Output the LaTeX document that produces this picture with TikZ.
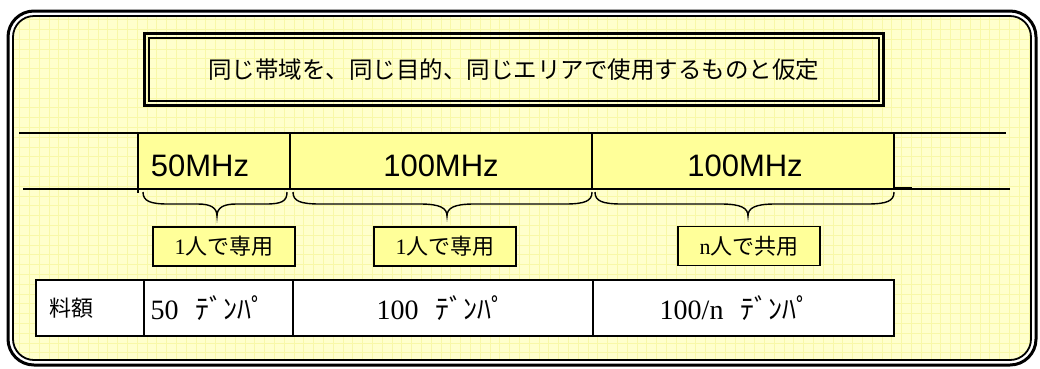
\documentclass[tikz,border=0pt]{standalone}
\usepackage{fontspec}
\setmainfont{Liberation Serif}
\newfontfamily\jp{Noto Sans CJK JP}
\newfontfamily\arial{Liberation Sans}
\definecolor{bgyellow}{HTML}{FFFFCC}
\definecolor{gridyellow}{HTML}{F8F8A8}
\definecolor{cellyellow}{HTML}{FFFF99}
\tikzset{
  bandcell/.style={draw=black, line width=1.8pt, fill=cellyellow},
  bandtext/.style={font=\arial\fontsize{31}{34}\selectfont, inner sep=0pt, anchor=center},
  labelbox/.style={draw=black, line width=1.4pt, fill=cellyellow, minimum width=142pt, minimum height=39pt, inner sep=0pt, font=\fontsize{22}{26}\selectfont},
  tablecell/.style={draw=black, line width=2.4pt, fill=white},
  tabletext/.style={font=\fontsize{28}{32}\selectfont, inner sep=0pt, anchor=center},
  bracepath/.style={draw=black, line width=1.4pt},
  bandline/.style={draw=black, line width=2pt}
}
\begin{document}
\begin{tikzpicture}[x=1pt,y=-1pt]
\useasboundingbox (0,0) rectangle (1040,368);
% outer double rounded frame
\draw[line width=3pt, fill=white, rounded corners=26pt] (8,11) rectangle (1036,365);
\fill[bgyellow, rounded corners=21pt] (13,16) rectangle (1031,360);
\begin{scope}
  \clip[rounded corners=21pt] (13,16) rectangle (1031,360);
  \draw[gridyellow, line width=0.7pt, step=9.8pt] (0,0) grid (1040,368);
\end{scope}
\draw[line width=1.8pt, rounded corners=21pt] (13,16) rectangle (1031,360);

% title box
\draw[line width=3pt] (144,33) rectangle (883,105);
\draw[line width=2pt] (148.5,37.5) rectangle (878.5,100.5);
\node[font=\jp\fontsize{23.5}{28}\selectfont, inner sep=0pt] (title) at (513.5,70) {同じ帯域を、同じ目的、同じエリアで使用するものと仮定};

% band
\draw[bandline] (19,133) -- (1006,133);
\draw[bandline] (23,189) -- (1010,189);
\draw[bandcell] (138,133) rectangle (290,189);
\draw[bandcell] (290,133) rectangle (592,189);
\draw[bandcell] (592,133) rectangle (894,189);
\draw[bandline] (138,189) -- (138,193);
\draw[line width=1pt] (894,187.5) -- (912,187.5);
\node[bandtext] (b1) at (200,166) {50MHz};
\node[bandtext] (b2) at (441,166) {100MHz};
\node[bandtext] (b3) at (745,166) {100MHz};

% braces
\coordinate (br1a) at (143,192);
\coordinate (br1b) at (287,192);
\draw[bracepath] (br1a) .. controls (143,201) and (150,204) .. (168,204) -- (198,204) .. controls (211,204) and (217,208) .. (217,216)
  .. controls (217,208) and (223,204) .. (236,204) -- (266,204) .. controls (282,204) and (287,201) .. (br1b);
\coordinate (br2a) at (293,192);
\coordinate (br2b) at (592,192);
\draw[bracepath] (br2a) .. controls (293,201) and (300,204) .. (320,204) -- (420,204) .. controls (440,204) and (447,208) .. (447,216)
  .. controls (447,208) and (454,204) .. (474,204) -- (565,204) .. controls (585,204) and (592,201) .. (br2b);
\coordinate (br3a) at (595,192);
\coordinate (br3b) at (894,192);
\draw[bracepath] (br3a) .. controls (595,201) and (602,204) .. (622,204) -- (721,204) .. controls (741,204) and (748,208) .. (748,216)
  .. controls (748,208) and (755,204) .. (775,204) -- (867,204) .. controls (887,204) and (894,201) .. (br3b);

% label boxes
\node[labelbox] (l1) at (224,246.5) {1{\jp 人で専用}};
\node[labelbox] (l2) at (445,246.5) {1{\jp 人で専用}};
\node[labelbox] (l3) at (749,246) {n{\jp 人で共用}};

% table
\draw[tablecell] (36,280) rectangle (894,336);
\draw[line width=2.4pt] (144,280) -- (144,336);
\draw[line width=2.4pt] (293,280) -- (293,336);
\draw[line width=2.4pt] (593,280) -- (593,336);
\node[font=\jp\fontsize{22}{26}\selectfont, inner sep=0pt] (t0) at (71,308) {料額};
\node[tabletext] (t1) at (208,308) {50\hspace{0.6em}{\jp ﾃﾞﾝﾊﾟ}};
\node[tabletext] (t2) at (441,308) {100\hspace{0.6em}{\jp ﾃﾞﾝﾊﾟ}};
\node[tabletext] (t3) at (735,308) {100/n\hspace{0.6em}{\jp ﾃﾞﾝﾊﾟ}};
\end{tikzpicture}
\end{document}
